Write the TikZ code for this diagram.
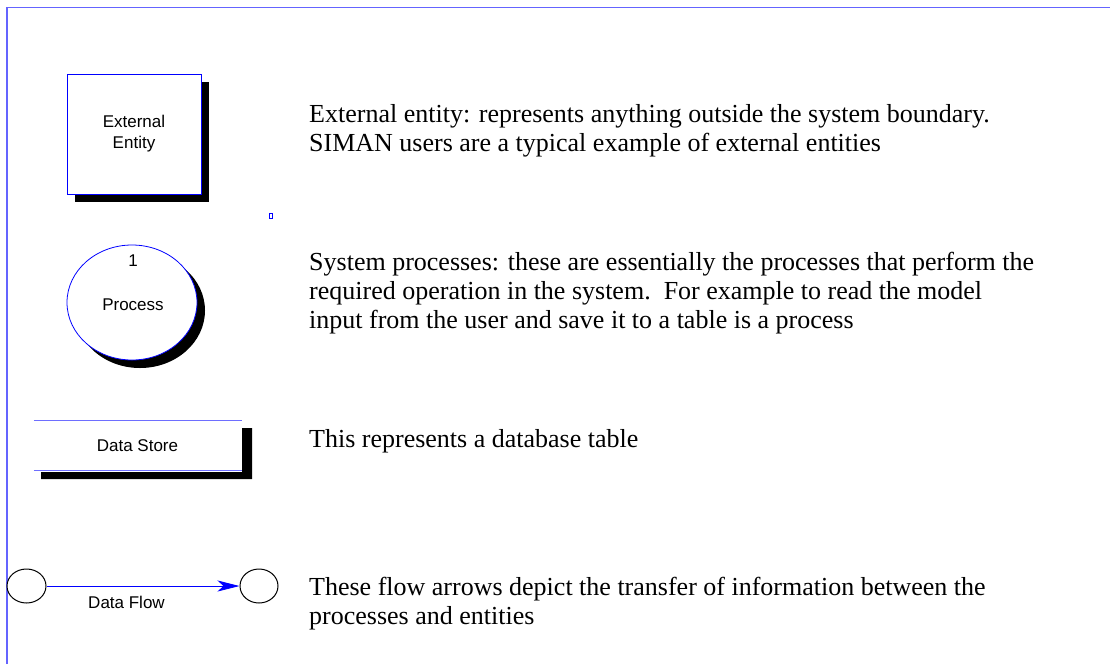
\documentclass[tikz,border=0pt]{standalone}
\usepackage{fontspec}
\setmainfont{Liberation Serif}
\newfontfamily\arialf{Liberation Sans}
\usetikzlibrary{shapes.geometric,arrows.meta,shadows}
\definecolor{frameblue}{RGB}{100,100,255}
\definecolor{lineblue}{RGB}{110,110,255}
\begin{document}
\begin{tikzpicture}[x=1pt,y=-1pt,
  desc/.style={anchor=base west, inner sep=0pt, font=\fontsize{26}{29}\selectfont},
  lbl/.style={font=\arialf\fontsize{17}{21}\selectfont, inner sep=0pt},
  shad/.style={drop shadow={shadow xshift=8pt, shadow yshift=-8pt, fill=black, opacity=1}},
  entitybox/.style={draw=blue, fill=white, line width=0.8pt, minimum width=134pt, minimum height=120pt, inner sep=0pt, shad},
  procell/.style={ellipse, draw=blue, fill=white, line width=0.8pt, minimum width=130pt, minimum height=115pt, inner sep=0pt, shad},
  flowend/.style={ellipse, draw=black, line width=1pt, fill=white, minimum width=39pt, minimum height=34pt, inner sep=0pt},
  flowarrow/.style={draw=blue, line width=0.8pt, -{Stealth[length=22pt, width=11pt, inset=6pt]}},
  frameline/.style={draw=frameblue, line width=1.5pt}
]
\useasboundingbox (0,0) rectangle (1110,664);
\fill[white] (0,0) rectangle (1110,664);
% frame
\draw[frameline] (7,664) -- (7,7.3) -- (1110,7.3);

% external entity
\node[entitybox, lbl, align=center] (ent) at (134,134) {External\\Entity};
\draw[blue, line width=0.6pt] (269,213) rectangle (272,218);

% process
\node[procell] (proc) at (132,302.5) {};
\node[lbl, anchor=base] (pnum) at (133,266) {1};
\node[lbl, anchor=base] (ptxt) at (133,310) {Process};

% data store
\fill[black] (242,428) -- (252,428) -- (252,479) -- (41,479) -- (41,472) -- (242,472) -- cycle;
\node[inner sep=0pt, minimum width=208pt, minimum height=49pt] (ds) at (138,445.5) {};
\draw[lineblue, line width=1pt] (ds.north west) -- (ds.north east);
\draw[lineblue, line width=1pt] (ds.south west) -- (ds.south east);
\node[lbl, anchor=base] (dstxt) at (137.5,451) {Data Store};

% data flow
\node[flowend] (c1) at (26.5,586) {};
\node[flowend, minimum width=38pt] (c2) at (259,586) {};
\draw[flowarrow] (c1) -- (c2);
\node[lbl, anchor=base] (dftxt) at (126.5,608) {Data Flow};

% descriptions
\node[desc] (d1a) at (309,122) {External entity: represents anything outside the system boundary.};
\node[desc] (d1b) at (309,151) {SIMAN users are a typical example of external entities};
\node[desc] (d2a) at (309,270) {System processes: these are essentially the processes that perform the};
\node[desc] (d2b) at (309,299) {required operation in the system.\ \ For example to read the model};
\node[desc] (d2c) at (309,328) {input from the user and save it to a table is a process};
\node[desc] (d3) at (309,447) {This represents a database table};
\node[desc] (d4a) at (309,595) {These flow arrows depict the transfer of information between the};
\node[desc] (d4b) at (309,624) {processes and entities};
\end{tikzpicture}
\end{document}
